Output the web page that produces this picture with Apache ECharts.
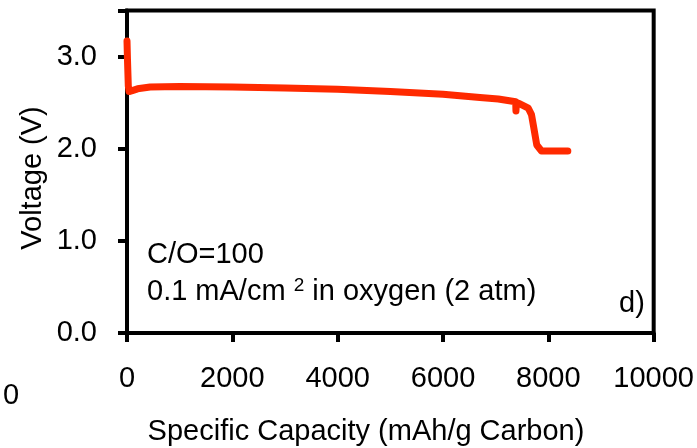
<!DOCTYPE html>
<html>
<head>
<meta charset="utf-8">
<style>
  html, body { margin: 0; padding: 0; background: #fff; }
  #chart { width: 697px; height: 448px; }
</style>
<script src="https://cdn.jsdelivr.net/npm/echarts@6/dist/echarts.min.js"></script>
</head>
<body>
<div id="chart"></div>
<script>
// Discharge curve: specific capacity (mAh/g carbon) vs. cell voltage (V)
const capacity = [0, 10, 25, 40, 100, 200, 440, 1000, 2000, 3000, 4000, 5000, 6000, 6700, 7050, 7380, 7385, 7395, 7450, 7620, 7680, 7720, 7780, 7870, 8370];
const voltage  = [3.17, 2.95, 2.68, 2.62, 2.63, 2.65, 2.67, 2.675, 2.67, 2.66, 2.645, 2.62, 2.59, 2.555, 2.54, 2.51, 2.41, 2.50, 2.49, 2.44, 2.37, 2.24, 2.04, 1.975, 1.975];

const xTicks = [0, 2000, 4000, 6000, 8000, 10000];
const yTicks = [0, 1, 2, 3];

const xTitle = 'Specific Capacity (mAh/g Carbon)';
const yTitle = 'Voltage (V)';
const noteLine1 = 'C/O=100';
const panelTag = 'd)';

const FONT = '"Liberation Sans", Arial, sans-serif';
const FS = 29;
const RED = '#ff2a00';

const chart = echarts.init(document.getElementById('chart'), null, { renderer: 'canvas' });

chart.setOption({
  animation: false,
  backgroundColor: '#fff',
  grid: {
    left: 127, right: 42.5, top: 10.5, bottom: 115,
    show: true, borderColor: '#000', borderWidth: 4
  },
  xAxis: {
    type: 'value',
    min: xTicks[0], max: xTicks[xTicks.length - 1], interval: 2000,
    axisLine: { show: true, onZero: false, lineStyle: { color: '#000', width: 4 } },
    axisTick: { show: true, inside: false, length: 9, lineStyle: { color: '#000', width: 4 } },
    axisLabel: {
      margin: 31, fontFamily: FONT, fontSize: FS, color: '#000',
      formatter: v => String(v)
    },
    splitLine: { show: false }
  },
  yAxis: {
    type: 'value',
    min: 0, max: 3.5, interval: 1,
    axisLine: { show: true, onZero: false, lineStyle: { color: '#000', width: 4 } },
    axisTick: { show: true, inside: false, length: 9, lineStyle: { color: '#000', width: 4 } },
    axisLabel: {
      margin: 30, fontFamily: FONT, fontSize: FS, color: '#000',
      formatter: v => (yTicks.indexOf(v) >= 0 ? v.toFixed(1) : '')
    },
    splitLine: { show: false }
  },
  series: [{
    type: 'line',
    data: capacity.map((c, i) => [c, voltage[i]]),
    showSymbol: false,
    smooth: false,
    lineStyle: { color: RED, width: 7, cap: 'round', join: 'round' }
  }],
  graphic: [
    {
      // x-axis title
      type: 'text', x: 366, y: 432,
      style: { text: xTitle, font: FS + 'px ' + FONT, fill: '#000', align: 'center', verticalAlign: 'middle' }
    },
    {
      // y-axis title, rotated to read bottom-to-top
      type: 'text', x: 33, y: 178, rotation: Math.PI / 2,
      style: { text: yTitle, font: FS + 'px ' + FONT, fill: '#000', align: 'center', verticalAlign: 'middle' }
    },
    {
      type: 'text', left: 147, top: 240,
      style: { text: noteLine1, font: FS + 'px ' + FONT, fill: '#000' }
    },
    {
      type: 'text', left: 147, top: 276,
      style: {
        text: '0.1 mA/cm {sup|2} in oxygen (2 atm)',
        font: FS + 'px ' + FONT, fill: '#000',
        rich: {
          sup: { fontSize: 19, fontFamily: FONT, fill: '#000', verticalAlign: 'top', padding: [0, 0, 12, 0] }
        }
      }
    },
    {
      type: 'text', left: 619, top: 289,
      style: { text: panelTag, font: FS + 'px ' + FONT, fill: '#000' }
    },
    {
      type: 'text', left: 3, top: 381,
      style: { text: '0', font: FS + 'px ' + FONT, fill: '#000' }
    }
  ]
});
</script>
</body>
</html>
